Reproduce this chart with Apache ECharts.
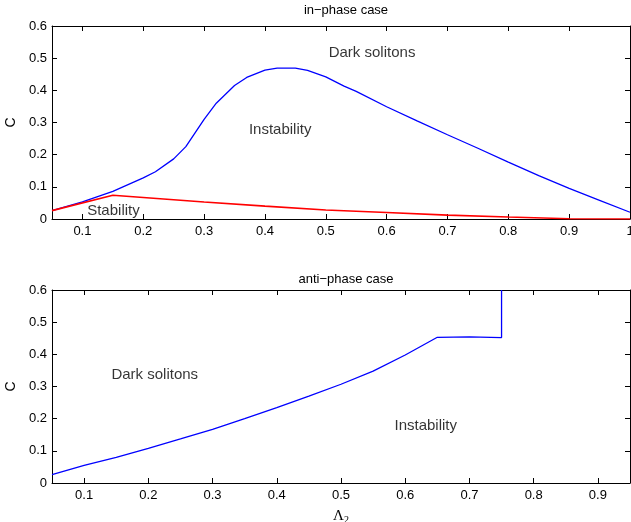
<!DOCTYPE html>
<html>
<head>
<meta charset="utf-8">
<script src="https://cdn.jsdelivr.net/npm/echarts@6/dist/echarts.min.js"></script>
<style>html,body{margin:0;padding:0;background:#fff}#c{width:631px;height:522px}</style>
</head>
<body>
<div id="c"></div>
<script>
// ---- data ----
const inPhaseBlueX = [0.05,0.1,0.15,0.2,0.22,0.25,0.27,0.3,0.32,0.35,0.37,0.4,0.42,0.45,0.47,0.5,0.53,0.55,0.6,0.65,0.7,0.75,0.8,0.85,0.9,0.95,1.0];
const inPhaseBlueC = [0.026,0.053,0.086,0.128,0.147,0.187,0.225,0.31,0.36,0.415,0.44,0.463,0.469,0.469,0.462,0.442,0.413,0.397,0.349,0.305,0.262,0.22,0.177,0.135,0.095,0.058,0.021];
const inPhaseRedX = [0.05,0.15,0.3,0.4,0.5,0.6,0.7,0.8,0.9,1.0];
const inPhaseRedC = [0.026,0.074,0.053,0.04,0.028,0.02,0.012,0.006,0.001,0.0];
const antiPhaseX = [0.05,0.1,0.15,0.2,0.25,0.3,0.35,0.4,0.45,0.5,0.55,0.6,0.65,0.7,0.75,0.75];
const antiPhaseC = [0.026,0.055,0.08,0.108,0.137,0.167,0.2,0.234,0.27,0.307,0.348,0.398,0.453,0.454,0.452,0.6];
const topXTicks = [0.1,0.2,0.3,0.4,0.5,0.6,0.7,0.8,0.9,1.0];
const bottomXTicks = [0.1,0.2,0.3,0.4,0.5,0.6,0.7,0.8,0.9];
const yTicks = [0,0.1,0.2,0.3,0.4,0.5,0.6];
const topLabels = [["Dark solitons",0.576,0.517],["Instability",0.425,0.276],["Stability",0.151,0.026]];
const bottomLabels = [["Dark solitons",0.21,0.336],["Instability",0.632,0.178]];
const titles = ["in\u2212phase case","anti\u2212phase case"];

// ---- chart ----
const FONT = "Liberation Sans, Arial, sans-serif";
const zip = (a,b)=>a.map((v,i)=>[v,b[i]]);
const fmt = v => (Math.round(v*10)/10).toString();
function xAx(g, max, ticks, pos, showLabel, name){
  return {
    type:'value', gridIndex:g, min:0.05, max:max, position:pos,
    axisLine:{show:true, onZero:false, lineStyle:{color:'#000', width:1}},
    axisTick:{show:true, inside:true, length:5, customValues:ticks, lineStyle:{color:'#000'}},
    axisLabel:{show:showLabel, customValues:ticks, formatter:fmt, color:'#000', fontSize:13, fontFamily:FONT, margin:6, hideOverlap:false},
    splitLine:{show:false},
    name: name||'', nameLocation:'middle', nameGap:24,
    nameTextStyle:{color:'#000', fontFamily:'Liberation Serif, Times New Roman, serif', fontSize:15,
      rich:{sub:{fontSize:10, verticalAlign:'bottom', padding:[8,0,0,0], fontFamily:'Liberation Serif, serif', color:'#000'}}}
  };
}
function yAx(g, pos, showLabel){
  return {
    type:'value', gridIndex:g, min:0, max:0.6, position:pos,
    axisLine:{show:true, onZero:false, lineStyle:{color:'#000', width:1}},
    axisTick:{show:true, inside:true, length:5, customValues:yTicks, lineStyle:{color:'#000'}},
    axisLabel:{show:showLabel, customValues:yTicks, formatter:fmt, color:'#000', fontSize:13, fontFamily:FONT, margin:5},
    splitLine:{show:false},
    name: showLabel ? 'C' : '', nameLocation:'middle', nameGap:34, nameRotate:90,
    nameTextStyle:{color:'#000', fontSize:14, fontFamily:FONT}
  };
}
function textSeries(list, xi, yi){
  return {
    type:'scatter', xAxisIndex:xi, yAxisIndex:yi, symbolSize:1, silent:true,
    itemStyle:{color:'rgba(0,0,0,0)'},
    data:list.map(d=>({value:[d[1],d[2]], name:d[0]})),
    label:{show:true, position:'inside', formatter:p=>p.name, color:'#000', fontSize:15, fontFamily:FONT},
    z:5
  };
}
const chart = echarts.init(document.getElementById('c'), null, {renderer:'canvas'});
chart.setOption({
  animation:false,
  backgroundColor:'#fff',
  title:[
    {text:titles[0], left:341, top:-1, textAlign:'center', textStyle:{fontSize:13, fontWeight:'normal', color:'#000', fontFamily:FONT}},
    {text:titles[1], left:341, top:268, textAlign:'center', textStyle:{fontSize:13, fontWeight:'normal', color:'#000', fontFamily:FONT}}
  ],
  grid:[
    {left:52, top:26, width:578, height:193, show:false, containLabel:false, outerBoundsMode:'none'},
    {left:52, top:290, width:578, height:193, show:false, containLabel:false, outerBoundsMode:'none'}
  ],
  xAxis:[
    xAx(0, 1.0, topXTicks, 'bottom', true),
    xAx(0, 1.0, topXTicks, 'top', false),
    xAx(1, 0.95, bottomXTicks, 'bottom', true, 'Λ{sub|2}'),
    xAx(1, 0.95, bottomXTicks, 'top', false)
  ],
  yAxis:[
    yAx(0,'left',true), yAx(0,'right',false),
    yAx(1,'left',true), yAx(1,'right',false)
  ],
  series:[
    {type:'line', xAxisIndex:0, yAxisIndex:0, data:zip(inPhaseBlueX,inPhaseBlueC), showSymbol:false, lineStyle:{color:'#0000ff', width:1.3}, itemStyle:{color:'#0000ff'}, z:3},
    {type:'line', xAxisIndex:0, yAxisIndex:0, data:zip(inPhaseRedX,inPhaseRedC), showSymbol:false, lineStyle:{color:'#ff0000', width:1.6}, itemStyle:{color:'#ff0000'}, z:4},
    {type:'line', xAxisIndex:2, yAxisIndex:2, data:zip(antiPhaseX,antiPhaseC), showSymbol:false, lineStyle:{color:'#0000ff', width:1.3}, itemStyle:{color:'#0000ff'}, z:3},
    textSeries(topLabels,0,0),
    textSeries(bottomLabels,2,2)
  ]
});
</script>
</body>
</html>
